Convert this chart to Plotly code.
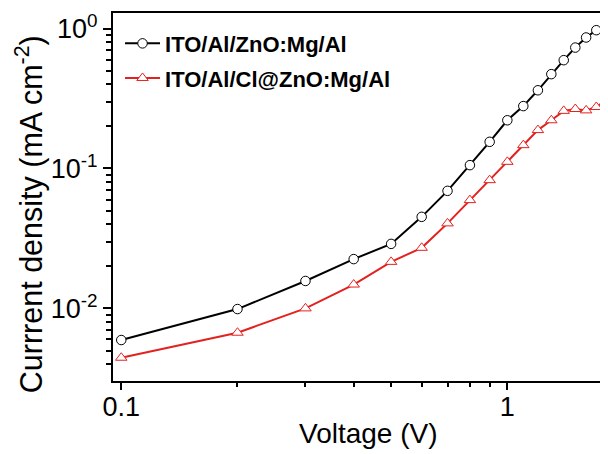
import plotly.graph_objects as go

# tension appliquée (V)
voltage = [0.1, 0.2, 0.3, 0.4, 0.5, 0.6, 0.7, 0.8, 0.9, 1.0,
           1.1, 1.2, 1.3, 1.4, 1.5, 1.6, 1.7, 1.8]

# densité de courant (mA cm-2)
j_zno_mg = [0.00594, 0.00989, 0.0157, 0.0225, 0.0289, 0.0451, 0.0692, 0.1056, 0.155,
            0.221, 0.279, 0.362, 0.472, 0.594, 0.731, 0.863, 0.973, 1.07]
j_cl_zno_mg = [0.00444, 0.0067, 0.0100, 0.0148, 0.0215, 0.0271, 0.0405, 0.0594, 0.0825,
               0.1115, 0.1467, 0.188, 0.221, 0.258, 0.266, 0.26, 0.275, 0.305]

noms = ["ITO/Al/ZnO:Mg/Al", "ITO/Al/Cl@ZnO:Mg/Al"]

x_ticks = [0.1, 1]
x_ticktext = ["0.1", "1"]
y_ticks = [0.01, 0.1, 1]
y_ticktext = ["10<sup>-2</sup>", "10<sup>-1</sup>", "10<sup>0</sup>"]

police = "Liberation Sans, Arial, sans-serif"
rouge = "#e3211f"
x_range = [-1.0214, 0.2504]
y_range = [-2.519, 0.111]

fig = go.Figure()
fig.add_trace(go.Scatter(
    x=voltage, y=j_zno_mg, name=noms[0], mode="lines+markers", legendgroup="a",
    line=dict(color="black", width=2),
    marker=dict(symbol="circle", size=9.5, color="white", line=dict(color="black", width=1)),
))
fig.add_trace(go.Scatter(
    x=voltage, y=j_cl_zno_mg, name=noms[1], mode="lines+markers", legendgroup="b",
    line=dict(color=rouge, width=2),
    marker=dict(symbol="triangle-up", size=10, color="white", line=dict(color=rouge, width=1)),
))

# ticks mineurs 2..9 de chaque décade
minor_x = [m * 10 ** d for d in (-1, 0) for m in range(2, 10)]
minor_y = [m * 10 ** d for d in (-3, -2, -1, 0) for m in range(2, 10)]

axe = dict(type="log", showgrid=False, zeroline=False,
           showline=True, linewidth=2, linecolor="black", mirror=True)

# la page ajoute 8 px de marge autour de la figure
fig.update_layout(
    width=600, height=446,
    margin=dict(l=105, r=4, t=5, b=73, autoexpand=False),
    plot_bgcolor="white", paper_bgcolor="white",
    xaxis=dict(**axe, range=x_range, tickmode="array", tickvals=x_ticks, ticktext=x_ticktext,
               ticks="outside", ticklen=7, tickwidth=2, tickcolor="black",
               minor=dict(tickmode="array", tickvals=minor_x, ticks="outside",
                          ticklen=4, tickwidth=2, tickcolor="black"),
               ticklabelstandoff=-6,
               tickfont=dict(family=police, size=27, color="black")),
    yaxis=dict(**axe, range=y_range, tickmode="array", tickvals=y_ticks, ticktext=y_ticktext,
               ticks="outside", ticklen=8, tickwidth=2, tickcolor="black",
               minor=dict(tickmode="array", tickvals=minor_y, ticks="outside",
                          ticklen=5, tickwidth=2, tickcolor="black"),
               tickfont=dict(family=police, size=27, color="black")),
    legend=dict(
        x=0.0143, y=0.974, xanchor="left", yanchor="top",
        bgcolor="rgba(0,0,0,0)", itemwidth=35, tracegroupgap=3,
        font=dict(family=police, size=22, color="black", weight="bold"),
    ),
    annotations=[
        dict(text="Voltage (V)", xref="paper", yref="paper", x=0.52, y=-0.142,
             xanchor="center", yanchor="middle", showarrow=False,
             font=dict(family=police, size=28, color="black")),
        dict(text="Currrent density (mA cm<sup>-2</sup>)", xref="paper", yref="paper",
             x=-0.17, y=0.452, xanchor="center", yanchor="middle", textangle=-90,
             showarrow=False, font=dict(family=police, size=30.5, color="black")),
    ],
)

fig.write_html("out.html")
